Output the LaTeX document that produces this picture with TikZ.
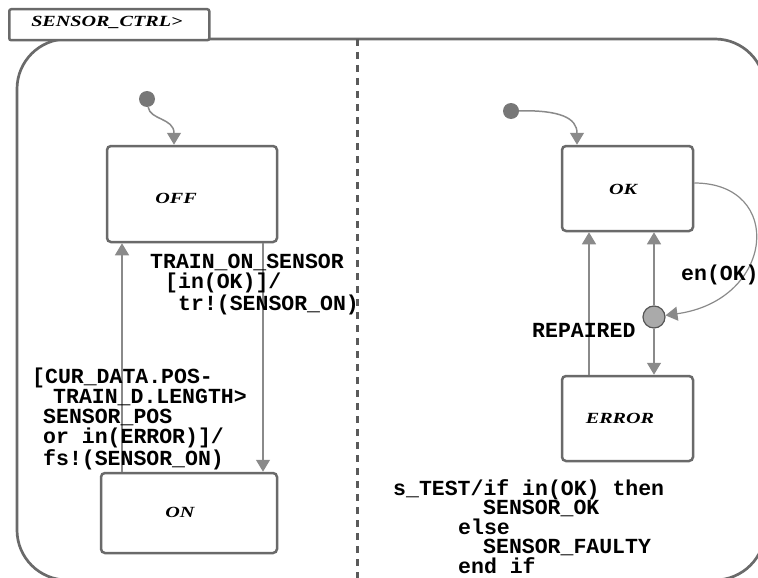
\documentclass[tikz,border=0pt]{standalone}
\usepackage{fontspec}
\setmainfont{Liberation Serif}
\newfontfamily\codefont{Liberation Mono}
\newfontfamily\statefont{Liberation Serif}[FakeStretch=1.3]
\usetikzlibrary{arrows.meta,calc}
\definecolor{bord}{HTML}{6A6A6A}
\definecolor{trc}{HTML}{8A8A8A}
\definecolor{dotc}{HTML}{777777}
\definecolor{condfill}{HTML}{AAAAAA}
\definecolor{condline}{HTML}{555555}
\definecolor{dashc}{HTML}{5A5A5A}
\begin{document}
\begin{tikzpicture}[x=1pt,y=-1pt,
  statebox/.style={draw=bord, line width=2.5pt, rounded corners=4pt, inner sep=0pt},
  statelbl/.style={font=\statefont\bfseries\itshape\fontsize{15.5}{18}\selectfont, inner sep=0pt, anchor=base},
  code/.style={font=\codefont\bfseries\fontsize{21.5}{20}\selectfont, inner sep=0pt, align=left, anchor=base west},
  codetwo/.style={font=\codefont\bfseries\fontsize{21.5}{19.4}\selectfont, inner sep=0pt, align=left, anchor=base west},
  tr/.style={draw=trc, line width=1.5pt, -{Triangle[length=12pt,width=14pt]}},
  initdot/.style={circle, fill=dotc, minimum size=16pt, inner sep=0pt},
]
\useasboundingbox (0,0) rectangle (758,578);
\clip (0,0) rectangle (758,578);

% outer superstate
\draw[bord, line width=2.7pt, rounded corners=50pt] (17,39) rectangle (765,580);
% name tab
\node[draw=bord, fill=white, line width=2.5pt, rounded corners=2pt, minimum width=200pt, minimum height=31pt, anchor=north west, inner sep=0pt] (tab) at (8,8) {};
\node[statelbl] (tabtext) at (107,27) {SENSOR\_CTRL>};

% states
\node[statebox, minimum width=170pt, minimum height=96pt] (OFF) at (192,194) {};
\node[statebox, minimum width=176pt, minimum height=80pt] (ON) at (189,513) {};
\node[statebox, minimum width=131pt, minimum height=85pt] (OK) at (627.5,188.5) {};
\node[statebox, minimum width=131pt, minimum height=85pt] (ERROR) at (627.5,418.5) {};
\node[statelbl] (offl) at (176,203) {OFF};
\node[statelbl] (onl) at (180,517) {ON};
\node[statelbl] (okl) at (623,194) {OK};
\node[statelbl] (errl) at (620,423) {ERROR};

% initial dots and condition connector
\node[initdot] (i1) at (147,99) {};
\node[initdot] (i2) at (511,111) {};
\node[circle, draw=condline, fill=condfill, line width=1.2pt, minimum size=22pt, inner sep=0pt] (cond) at (654,317) {};

% helper coordinates
\coordinate (xa) at (122,0);
\coordinate (xb) at (263,0);
\coordinate (xc) at (589,0);
\coordinate (xi1) at (174,0);
\coordinate (xi2) at (577,0);
\coordinate (yl) at (0,183);

% transitions
\draw[tr] (i1) .. controls (150,120) and (174,118) .. (OFF.north -| xi1);
\draw[tr] (i2) .. controls (560,110) and (577,118) .. (OK.north -| xi2);
\draw[tr] (ON.north -| xa) -- (OFF.south -| xa);
\draw[tr] (OFF.south -| xb) -- (ON.north -| xb);
\draw[tr] (ERROR.north -| xc) -- (OK.south -| xc);
\draw[tr] (cond) -- (OK.south -| cond);
\draw[tr] (cond) -- (ERROR.north -| cond);
\draw[tr, line width=1.2pt] (OK.east |- yl) .. controls (785,183) and (775,300) .. (cond);

% labels (base anchor = baseline of the last line)
\node[code] (lab1) at (150,310) {TRAIN\_ON\_SENSOR\\\hspace*{15pt}[in(OK)]/\\\hspace*{28pt}tr!(SENSOR\_ON)};
\node[code] (lab2) at (32,465) {[CUR\_DATA.POS-\\\hspace*{21pt}TRAIN\_D.LENGTH>\\\hspace*{11pt}SENSOR\_POS\\\hspace*{11pt}or in(ERROR)]/\\\hspace*{11pt}fs!(SENSOR\_ON)};
\node[code] (lab3) at (532,337) {REPAIRED};
\node[code] (lab4) at (681,280) {en(OK)};
\node[codetwo] (lab5) at (393,573) {s\_TEST/if in(OK) then\\\hspace*{90pt}SENSOR\_OK\\\hspace*{65pt}else\\\hspace*{90pt}SENSOR\_FAULTY\\\hspace*{65pt}end if};

% orthogonal separator
\coordinate (dtop) at (357,39);
\coordinate (dbot) at (357,580);
\draw[dashc, line width=3pt, dash pattern=on 7pt off 6pt] (dtop) -- (dbot);
\end{tikzpicture}
\end{document}
